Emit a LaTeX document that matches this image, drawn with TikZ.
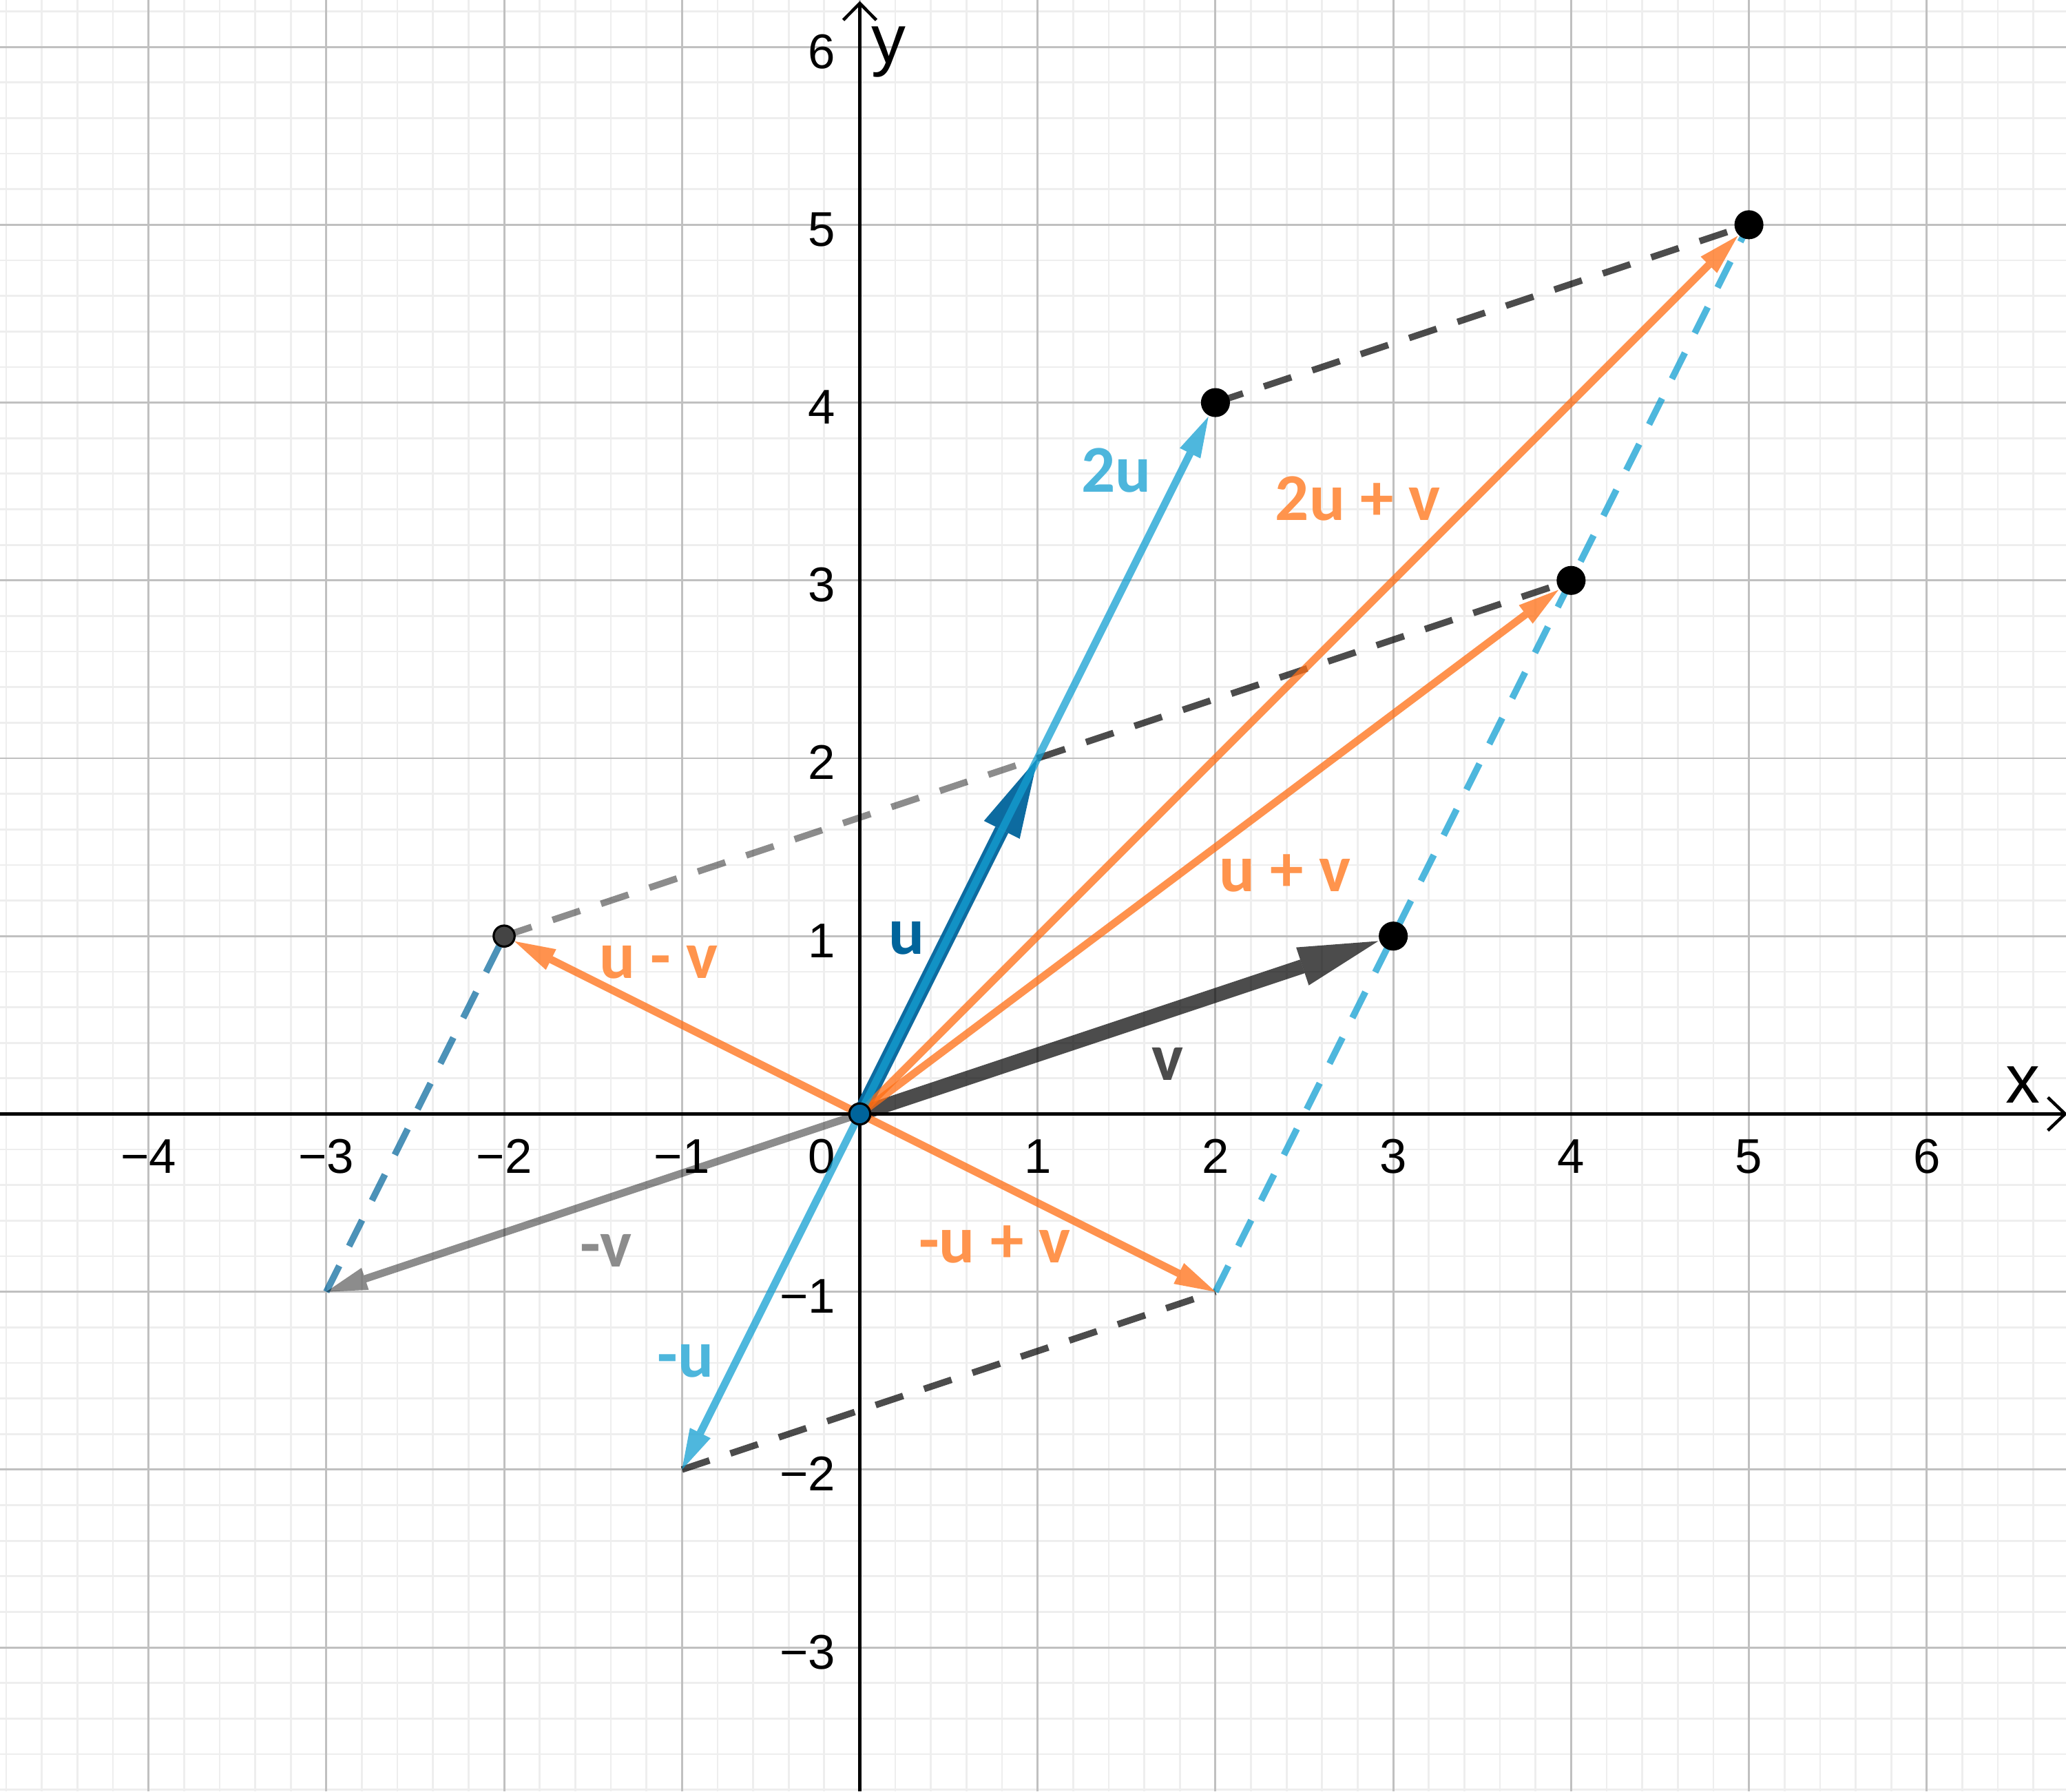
\documentclass[tikz,border=0pt]{standalone}
\usepackage{fontspec}
\setmainfont{Liberation Sans}
\newfontfamily\lblfont{Carlito}
\usetikzlibrary{arrows.meta}
\definecolor{dblue}{RGB}{0,100,155}
\definecolor{lblue}{RGB}{20,160,210}
\definecolor{orng}{RGB}{255,110,20}
\definecolor{orngT}{RGB}{255,148,77}
\definecolor{lblueT}{RGB}{77,182,220}
\definecolor{majgrid}{RGB}{192,192,192}
\definecolor{mingrid}{RGB}{238,238,238}
\definecolor{ptgray}{RGB}{68,68,68}
\tikzset{
  thinvec/.style={line width=1.2pt, -{Triangle[length=0.23cm,width=0.13cm,line width=0pt]}},
  thickvec/.style={line width=2.3pt, -{Triangle[length=0.45cm,width=0.225cm,line width=0pt]}},
  dashln/.style={line width=1.05pt, dash pattern=on 0.163cm off 0.124cm},
  lbl/.style={font=\lblfont\bfseries\fontsize{10.7}{12}\selectfont, inner sep=0pt, anchor=base west},
  ticklbl/.style={font=\fontsize{7.8}{9}\selectfont, inner sep=0pt},
  axlbl/.style={font=\fontsize{11}{13}\selectfont, inner sep=0pt, anchor=base},
  bigpt/.style={circle, fill=black, inner sep=0pt, minimum size=0.163cm},
  smallpt/.style={circle, draw=black, line width=0.35pt, inner sep=0pt, minimum size=0.118cm},
  axisln/.style={line width=0.5pt, black},
}
\begin{document}
\begin{tikzpicture}
\useasboundingbox (-4.835,-3.809) rectangle (6.783,6.264);
\fill[white] (-4.835,-3.809) rectangle (6.783,6.264);
% grid
\draw[mingrid, line width=0.3pt] (-4.835,-3.809) grid[step=0.2] (6.783,6.264);
\draw[majgrid, line width=0.33pt] (-4.835,-3.809) grid[step=1] (6.783,6.264);
% axes
\coordinate (xL) at (-4.835,0);
\coordinate (xT) at (6.778,0);
\coordinate (xA1) at (6.681,0.093);
\coordinate (xA2) at (6.681,-0.093);
\coordinate (yB) at (0,-3.809);
\coordinate (yT) at (0,6.245);
\coordinate (yA1) at (-0.093,6.151);
\coordinate (yA2) at (0.093,6.151);
\draw[axisln] (xL) -- (xT);
\draw[axisln] (xA1) -- (xT) -- (xA2);
\draw[axisln] (yB) -- (yT);
\draw[axisln] (yA1) -- (yT) -- (yA2);
% tick labels
\foreach \k/\t in {-4/−4,-3/−3,-2/−2,-1/−1,1/1,2/2,3/3,4/4,5/5,6/6}
  \node[ticklbl, anchor=base] (tx\k) at (\k,-0.332) {\t};
\node[ticklbl, anchor=base east] (tx0) at (-0.13,-0.332) {0};
\foreach \k/\t in {-3/−3,-2/−2,-1/−1,1/1,2/2,3/3,4/4,5/5,6/6}
  \node[ticklbl, anchor=base east] (ty\k) at (-0.13,\k-0.12) {\t};
\node[axlbl] (xlab) at (6.539,0.061) {x};
\node[axlbl] (ylab) at (0.164,5.908) {y};
% key coordinates
\coordinate (c12) at (1,2);
\coordinate (cm3m1) at (-3,-1);
\coordinate (cm1m2) at (-1,-2);
\coordinate (c2m1) at (2,-1);
% points (defined first, drawn later on top)
\path (0,0) node[smallpt, fill=dblue, opacity=0] (O0) {};
\path (2,4) node[bigpt, opacity=0] (P24) {};
\path (5,5) node[bigpt, opacity=0] (P55) {};
\path (4,3) node[bigpt, opacity=0] (P43) {};
\path (3,1) node[bigpt, opacity=0] (P31) {};
\path (-2,1) node[smallpt, opacity=0] (Pm21) {};
% dashed lines
\draw[dashln, black, opacity=0.7] (P24.center) -- (P55.center);
\draw[dashln, black, opacity=0.45] (Pm21.center) -- (c12);
\draw[dashln, black, opacity=0.7] (c12) -- (P43.center);
\draw[dashln, black, opacity=0.7] (cm1m2) -- (c2m1);
\draw[dashln, dblue, opacity=0.7] (cm3m1) -- (Pm21.center);
\draw[dashln, lblue, opacity=0.75] (c2m1) -- (P55.center);
% thick vectors
\draw[thickvec, dblue, opacity=0.95] (O0.center) -- (c12);
\draw[thickvec, black, opacity=0.7] (O0.center) -- (P31);
% thin vectors
\draw[thinvec, black, opacity=0.45] (O0.center) -- (cm3m1);
\draw[thinvec, orng, opacity=0.75] (O0.center) -- (P55);
\draw[thinvec, orng, opacity=0.75] (O0.center) -- (P43);
\draw[thinvec, orng, opacity=0.75] (O0.center) -- (Pm21);
\draw[thinvec, orng, opacity=0.75] (O0.center) -- (c2m1);
\draw[thinvec, lblue, opacity=0.75] (O0.center) -- (P24);
\draw[thinvec, lblue, opacity=0.75] (O0.center) -- (cm1m2);
% visible points
\node[bigpt] (Q24) at (P24.center) {};
\node[bigpt] (Q55) at (P55.center) {};
\node[bigpt] (Q43) at (P43.center) {};
\node[bigpt] (Q31) at (P31.center) {};
\node[smallpt, fill=ptgray] (Qm21) at (Pm21.center) {};
\node[smallpt, fill=dblue] (O) at (O0.center) {};
% labels
\node[lbl, text=dblue] (Lu) at (0.155,0.90) {u};
\node[lbl, text=black!70] (Lv) at (1.635,0.19) {v};
\node[lbl, text=orngT] (Lupv) at (2.015,1.249) {u + v};
\node[lbl, text=lblueT] (L2u) at (1.24,3.498) {2u};
\node[lbl, text=orngT] (L2upv) at (2.33,3.339) {2u + v};
\node[lbl, text=orngT] (Lumv) at (-1.47,0.764) {u - v};
\node[lbl, text=black!45] (Lmv) at (-1.58,-0.859) {-v};
\node[lbl, text=lblueT] (Lmu) at (-1.145,-1.481) {-u};
\node[lbl, text=orngT] (Lmupv) at (0.325,-0.836) {-u + v};
\end{tikzpicture}
\end{document}
